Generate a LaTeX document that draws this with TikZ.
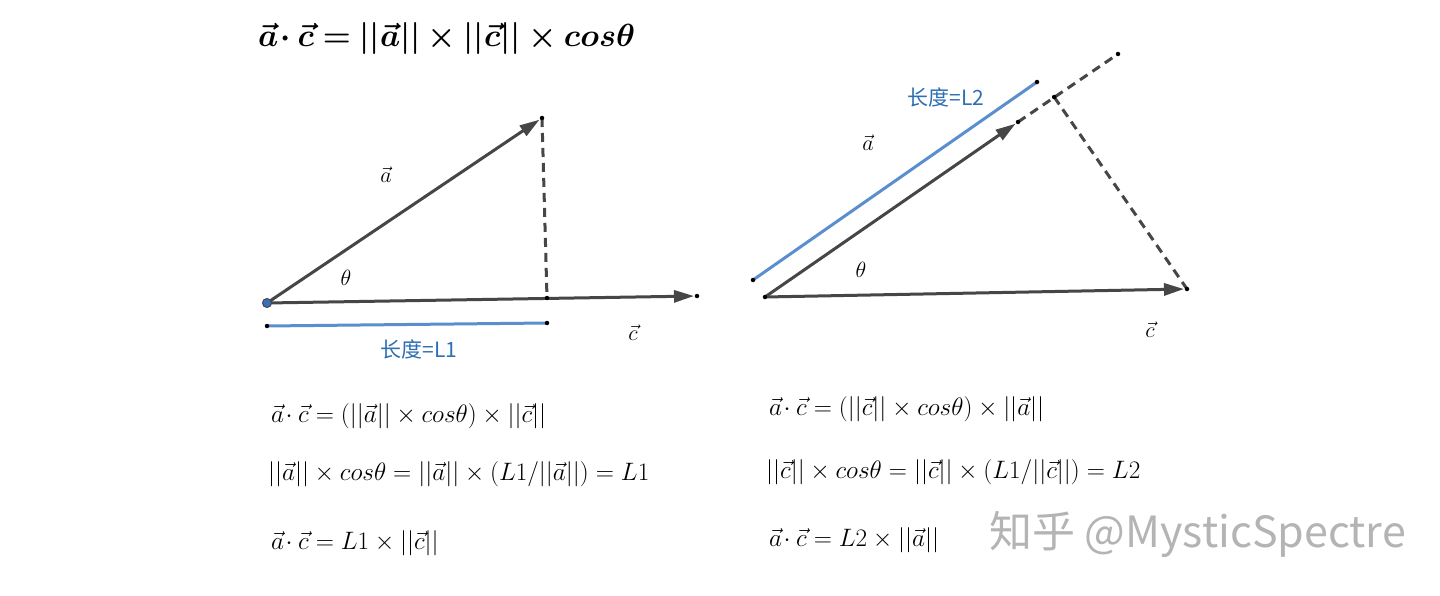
\RequirePackage{fix-cm}
\documentclass[tikz,border=0pt]{standalone}
\usepackage{bm}
\usepackage{fontspec}
\newfontfamily\cjk{Noto Sans CJK SC}
\usetikzlibrary{arrows.meta,calc}
\definecolor{vecgray}{RGB}{70,70,70}
\definecolor{lineblue}{RGB}{90,142,206}
\definecolor{textblue}{RGB}{45,110,180}
\definecolor{dotblue}{RGB}{60,110,190}
\definecolor{wmgray}{RGB}{180,180,180}
\tikzset{
  vec/.style={draw=vecgray,line width=3pt,-{Triangle[length=20pt,width=12pt]},shorten >=3pt},
  dsh/.style={draw=vecgray,line width=3pt,dash pattern=on 9pt off 6pt},
  blueline/.style={draw=lineblue,line width=3pt},
  pt/.style={circle,fill=black,inner sep=0pt,minimum size=4.5pt},
  lbl/.style={inner sep=0pt,font=\fontsize{22}{24}\selectfont},
  eq/.style={anchor=base west,inner sep=0pt,font=\fontsize{25.2}{28}\selectfont},
  lenlbl/.style={inner sep=0pt,text=textblue,font=\cjk\fontsize{21}{23}\selectfont},
}
\begin{document}
\begin{tikzpicture}[x=1pt,y=-1pt]
\useasboundingbox[fill=white] (0,0) rectangle (1440,596);
% title
\node[anchor=base west,inner sep=0pt,font=\fontsize{32}{36}\selectfont] (title) at (258,47)
  {$\bm{\vec{a}\!\cdot\vec{c}=||\vec{a}||\times||\vec{c}||\times cos\theta}$};
% ---------- left diagram ----------
\coordinate (O1) at (267,303);
\coordinate (A1) at (542,118);
\coordinate (F1) at (547,298);
\coordinate (C1) at (697,296);
\coordinate (B1s) at (267,326);
\coordinate (B1e) at (547,323);
\draw[blueline] (B1s) -- (B1e);
\draw[dsh] (A1) -- (F1);
\draw[vec] (O1) -- (A1);
\draw[vec] (O1) -- (C1);
\node[pt] (pA1) at (A1) {};
\node[pt] (pF1) at (F1) {};
\node[pt] (pC1) at (C1) {};
\node[pt] (pB1s) at (B1s) {};
\node[pt] (pB1e) at (B1e) {};
\node[circle,fill=dotblue,draw=vecgray,line width=1pt,inner sep=0pt,minimum size=9pt] (pO1) at (O1) {};
\node[lbl] (la1) at (386,175) {$\vec{a}$};
\node[lbl] (th1) at (346,278) {$\theta$};
\node[lbl] (lc1) at (633,333) {$\vec{c}$};
\node[lenlbl] (L1) at (419,349) {长度=L1};
% ---------- right diagram ----------
\coordinate (O2) at (765,297);
\coordinate (A2) at (1018,122);
\coordinate (E2) at (1118,54);
\coordinate (C2) at (1187,289);
\coordinate (F2) at ($(O2)!(C2)!(A2)$);
\coordinate (B2s) at (753,280);
\coordinate (B2e) at (1037,82);
\draw[blueline] (B2s) -- (B2e);
\draw[dsh] (A2) -- (E2);
\draw[dsh] (F2) -- (C2);
\draw[vec] (O2) -- (A2);
\draw[vec] (O2) -- (C2);
\node[pt] (pO2) at (O2) {};
\node[pt] (pA2) at (A2) {};
\node[pt] (pE2) at (E2) {};
\node[pt] (pF2) at (F2) {};
\node[pt] (pC2) at (C2) {};
\node[pt] (pB2s) at (B2s) {};
\node[pt] (pB2e) at (B2e) {};
\node[lbl] (la2) at (868,143) {$\vec{a}$};
\node[lbl] (th2) at (861,270) {$\theta$};
\node[lbl] (lc2) at (1150,330) {$\vec{c}$};
\node[lenlbl] (L2) at (946,97) {长度=L2};
% ---------- equations ----------
\node[eq] (e11) at (271,422) {$\vec{a}\!\cdot\vec{c}=(||\vec{a}||\times cos\theta)\times||\vec{c}||$};
\node[eq] (e12) at (268,480) {$||\vec{a}||\times cos\theta=||\vec{a}||\times(L1/||\vec{a}||)=L1$};
\node[eq] (e13) at (271,549) {$\vec{a}\!\cdot\vec{c}=L1\times||\vec{c}||$};
\node[eq] (e21) at (769,415) {$\vec{a}\!\cdot\vec{c}=(||\vec{c}||\times cos\theta)\times||\vec{a}||$};
\node[eq] (e22) at (766,478) {$||\vec{c}||\times cos\theta=||\vec{c}||\times(L1/||\vec{c}||)=L2$};
\node[eq] (e23) at (769,546) {$\vec{a}\!\cdot\vec{c}=L2\times||\vec{a}||$};
% watermark
\node[anchor=west,inner sep=0pt,text=wmgray,font=\cjk\fontsize{43}{45}\selectfont] (wm) at (989,534) {知乎 @MysticSpectre};
\end{tikzpicture}
\end{document}
